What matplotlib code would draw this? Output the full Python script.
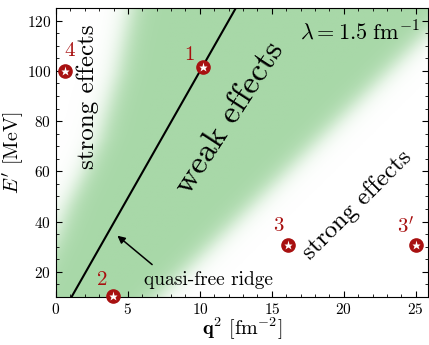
import numpy as np
import matplotlib
matplotlib.use("Agg")
import matplotlib.pyplot as plt
from matplotlib.colors import LinearSegmentedColormap

plt.rcParams["font.family"] = "serif"
plt.rcParams["font.serif"] = ["cmr10", "DejaVu Serif"]
plt.rcParams["mathtext.fontset"] = "cm"
plt.rcParams["axes.unicode_minus"] = False
plt.rcParams["axes.formatter.use_mathtext"] = True

# kinematic points (q^2 in fm^-2, E' in MeV)
point_names = ["1", "2", "3", r"$3'$", "4"]
point_q2 = [10.19, 3.98, 16.13, 25.0, 0.65]
point_E = [101.4, 10.5, 30.6, 30.6, 100.0]
label_q2 = [9.26, 3.24, 15.44, 24.3, 0.93]
label_E = [106.4, 16.9, 38.1, 38.1, 107.8]

# quasi-free ridge
ridge_q2 = [1.04, 12.5]
ridge_E = [9.6, 125.0]

# edges of the "weak effects" band (half-intensity)
left_edge_E = [10, 33, 46, 59, 73, 99, 130]
left_edge_q2 = [-2.0, -0.1, 0.8, 1.9, 3.0, 4.3, 5.4]
right_edge_E = [15.6, 28.7, 48.6, 70.0, 85.2, 98.5, 111.7]
right_edge_q2 = [8.1, 10.2, 14.2, 18.0, 20.6, 22.5, 25.3]

xmin, xmax = 0, 25.85
ymin, ymax = 10, 125

fig = plt.figure(figsize=(4.29, 3.45), dpi=100)
ax = fig.add_axes([0.1305, 0.1391, 0.867, 0.8377])

# shaded band
qq, ee = np.meshgrid(np.linspace(xmin, xmax, 400), np.linspace(ymin, ymax, 400))
xl = np.interp(ee, left_edge_E, left_edge_q2)
k, b = np.polyfit(right_edge_E, right_edge_q2, 1)
xr = k * ee + b
sig = lambda t: 1 / (1 + np.exp(-t))
weak = sig((qq - xl) / 0.5) * sig((xr - qq) / 0.6)
cmap = LinearSegmentedColormap.from_list("wg", ["white", "#a8d8a8"])
ax.imshow(weak, extent=[xmin, xmax, ymin, ymax], origin="lower",
          aspect="auto", cmap=cmap, vmin=0, vmax=1, interpolation="bilinear")

ax.plot(ridge_q2, ridge_E, color="black", lw=1.5)

red = "#a81010"
ax.plot(point_q2, point_E, "o", ms=9.5, color=red, clip_on=False, zorder=5)
ax.plot(point_q2, point_E, "*", ms=6.5, color="white", mec="none",
        clip_on=False, zorder=6)
for name, x, y in zip(point_names, label_q2, label_E):
    ax.text(x, y, name, color=red, fontsize=15, ha="center", va="center")

ax.annotate("", xy=(4.12, 35.1), xytext=(6.83, 22.2),
            arrowprops=dict(arrowstyle="-|>", color="black", lw=1.1,
                            mutation_scale=11))
ax.text(10.58, 16.9, "quasi-free ridge", fontsize=14, ha="center", va="center")

ax.text(2.2, 89.9, "strong effects", fontsize=18, rotation=90,
        ha="center", va="center")
ax.text(20.95, 46.7, "strong effects", fontsize=18, rotation=45,
        ha="center", va="center", rotation_mode="anchor")
ax.text(12.04, 81.2, "weak effects", fontsize=24, rotation=57,
        ha="center", va="center", rotation_mode="anchor")
ax.text(25.3, 115.7, r"$\lambda = 1.5\ \mathrm{fm}^{-1}$", fontsize=16,
        ha="right", va="center")

ax.set_xlim(xmin, xmax)
ax.set_ylim(ymin, ymax)
ax.set_xticks([0, 5, 10, 15, 20, 25])
ax.set_yticks([20, 40, 60, 80, 100, 120])
ax.set_xticks(np.arange(0, 26, 1), minor=True)
ax.set_yticks(np.arange(10, 126, 5), minor=True)
ax.tick_params(which="both", direction="in", top=True, right=True,
               labelsize=11)
ax.tick_params(which="major", length=4)
ax.tick_params(which="minor", length=2.2)

ax.set_xlabel(r"$\mathbf{q}^2$ [fm$^{-2}$]", fontsize=14.5, labelpad=-1)
ax.set_ylabel(r"$E'$ [MeV]", fontsize=14.5, labelpad=1)

fig.savefig("out.png", dpi=100)
